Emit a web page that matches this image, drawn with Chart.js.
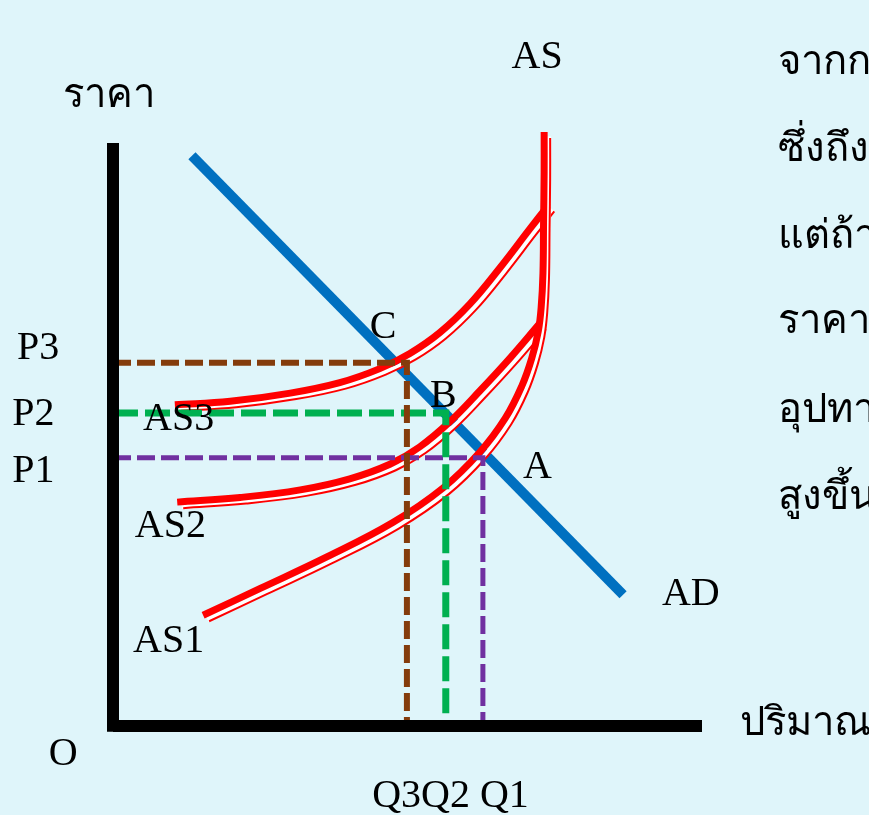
<!DOCTYPE html>
<html lang="th">
<head>
<meta charset="utf-8">
<title>AS / AD</title>
<script src="https://cdn.jsdelivr.net/npm/chart.js@4.4.1/dist/chart.umd.min.js"></script>
<style>
  html, body { margin: 0; padding: 0; background: #dff5fa; overflow: hidden; }
  canvas { display: block; }
</style>
</head>
<body>
<canvas id="chart" width="869" height="815"></canvas>
<script>
// ---------- Data ----------
// quantity (x) and price (y) both run 0..100, origin at the axes corner
const adLine = [[13.4, 97.8], [86.6, 22.5]];
const as1Curve = [[15.3, 19.0], [25.0, 23.6], [36.3, 29.0], [47.5, 34.9], [56.0, 40.8], [62.3, 47.0],
  [66.6, 52.8], [69.4, 58.3], [71.1, 63.1], [72.2, 67.7], [72.7, 71.9], [73.0, 77.7], [73.1, 86.3],
  [73.2, 94.9], [73.2, 101.9]];
const as2Curve = [[10.9, 38.4], [21.6, 39.2], [31.8, 40.5], [40.2, 42.4], [47.0, 44.9], [52.1, 47.9],
  [57.2, 52.2], [62.3, 57.5], [67.4, 63.1], [72.5, 69.1]];
const as3Curve = [[10.5, 55.1], [19.9, 55.7], [30.1, 57.1], [38.5, 58.9], [45.3, 61.3], [50.4, 63.9],
  [55.5, 67.5], [60.6, 72.4], [65.7, 78.6], [70.8, 85.3], [73.9, 89.3]];

const pointNames = ['A', 'B', 'C'];
const eqQuantity = [62.8, 56.5, 49.9];
const eqPrice = [46.0, 53.7, 62.3];
const priceNames = ['P1', 'P2', 'P3'];
const curveNames = ['AS1', 'AS2', 'AS3'];
const quantityNames = ['Q3', 'Q2', ' Q1'];
const axisNames = { price: 'ราคา', quantity: 'ปริมาณ', origin: 'O' };
const sideText = ['จากกราฟ', 'ซึ่งถึงจุดนี้', 'แต่ถ้า', 'ราคาสินค้า', 'อุปทานลดลง', 'สูงขึ้น'];

// ---------- Styles ----------
const BG = '#dff5fa';
const RED = '#ff0000';
const guideStyle = [
  { color: '#7030a0', width: 5, dash: [18, 6] },   // A
  { color: '#00b050', width: 7, dash: [25, 7] },   // B
  { color: '#843c0c', width: 6, dash: [18, 6] },   // C
];
const FONT = '40px "Liberation Serif", "Norasi", "TH Sarabun New", "Angsana New", serif';

// ---------- Datasets ----------
const toPts = (arr) => arr.map(([x, y]) => ({ x, y }));
const plain = { pointRadius: 0, clip: false, fill: false, tension: 0 };

// red curve with a thin companion line below-right (white gap in between)
function asCurve(points) {
  const data = toPts(points);
  const base = { ...plain, data, tension: 0.4 };
  return [
    { ...base, borderColor: RED, borderWidth: 7 },
    { ...base, borderColor: RED, borderWidth: 2, shift: 6 },
    { ...base, borderColor: '#ffffff', borderWidth: 5, shift: 4.5 },
  ];
}

const axisSets = [
  { ...plain, data: [{ x: 0, y: 100 }, { x: 0, y: -1 }], borderColor: '#000', borderWidth: 12 },
  { ...plain, data: [{ x: 0, y: 0 }, { x: 100, y: 0 }], borderColor: '#000', borderWidth: 12 },
];

const guideSets = eqQuantity.map((q, i) => ({
  ...plain,
  data: [{ x: 0, y: eqPrice[i] }, { x: q, y: eqPrice[i] }, { x: q, y: 0 }],
  borderColor: guideStyle[i].color,
  borderWidth: guideStyle[i].width,
  borderDash: guideStyle[i].dash,
})).reverse();

const datasets = [
  ...axisSets,
  ...guideSets,
  ...asCurve(as1Curve),
  ...asCurve(as2Curve),
  ...asCurve(as3Curve),
  { ...plain, data: toPts(adLine), borderColor: '#0070c0', borderWidth: 10 },
];

// ---------- Text placed in data coordinates ----------
const sideRows = [111.8, 96.9, 82.0, 67.4, 52.1, 37.2];
const notes = [
  { text: 'AS', x: 72.0, y: 112.9, align: 'center' },
  { text: axisNames.price, x: -8.5, y: 106.2 },
  { text: priceNames[2], x: -16.3, y: 62.9 },
  { text: priceNames[1], x: -17.1, y: 51.6 },
  { text: priceNames[0], x: -17.1, y: 41.9 },
  { text: curveNames[2], x: 5.1, y: 50.8 },
  { text: curveNames[1], x: 3.7, y: 32.4 },
  { text: curveNames[0], x: 3.4, y: 12.7 },
  { text: pointNames[2], x: 43.6, y: 66.6 },
  { text: pointNames[1], x: 53.8, y: 54.7 },
  { text: pointNames[0], x: 69.6, y: 42.5 },
  { text: 'AD', x: 93.2, y: 20.8 },
  { text: axisNames.origin, x: -10.9, y: -6.7 },
  { text: axisNames.quantity, x: 106.5, y: -1.5 },
  { text: quantityNames.join(''), x: 44.0, y: -13.9 },
  ...sideText.map((t, i) => ({ text: t, x: 112.9, y: sideRows[i] })),
];

// ---------- Plugins ----------
const background = {
  id: 'background',
  beforeDraw(chart) {
    const { ctx, width, height } = chart;
    ctx.save();
    ctx.fillStyle = BG;
    ctx.fillRect(0, 0, width, height);
    ctx.restore();
  }
};

// shift a dataset down-right to draw the companion lines
const doubleLine = {
  id: 'doubleLine',
  beforeDatasetDraw(chart, args) {
    const shift = chart.data.datasets[args.index].shift;
    if (!shift) return;
    chart.ctx.save();
    chart.ctx.translate(shift, shift);
  },
  afterDatasetDraw(chart, args) {
    if (chart.data.datasets[args.index].shift) chart.ctx.restore();
  }
};

const labels = {
  id: 'labels',
  afterDraw(chart) {
    const { ctx, scales: { x, y } } = chart;
    ctx.save();
    ctx.fillStyle = '#000';
    ctx.font = FONT;
    ctx.textBaseline = 'alphabetic';
    for (const n of notes) {
      ctx.textAlign = n.align || 'left';
      ctx.fillText(n.text, x.getPixelForValue(n.x), y.getPixelForValue(n.y));
    }
    ctx.restore();
  }
};

// ---------- Chart ----------
new Chart(document.getElementById('chart'), {
  type: 'line',
  data: { datasets },
  options: {
    responsive: false,
    animation: false,
    events: [],
    layout: { padding: { left: 113, right: 167, top: 143, bottom: 89 } },
    elements: { line: { capBezierPoints: false } },
    scales: {
      x: { type: 'linear', min: 0, max: 100, display: false },
      y: { type: 'linear', min: 0, max: 100, display: false },
    },
    plugins: { legend: { display: false }, tooltip: { enabled: false } },
  },
  plugins: [background, doubleLine, labels],
});
</script>
</body>
</html>
